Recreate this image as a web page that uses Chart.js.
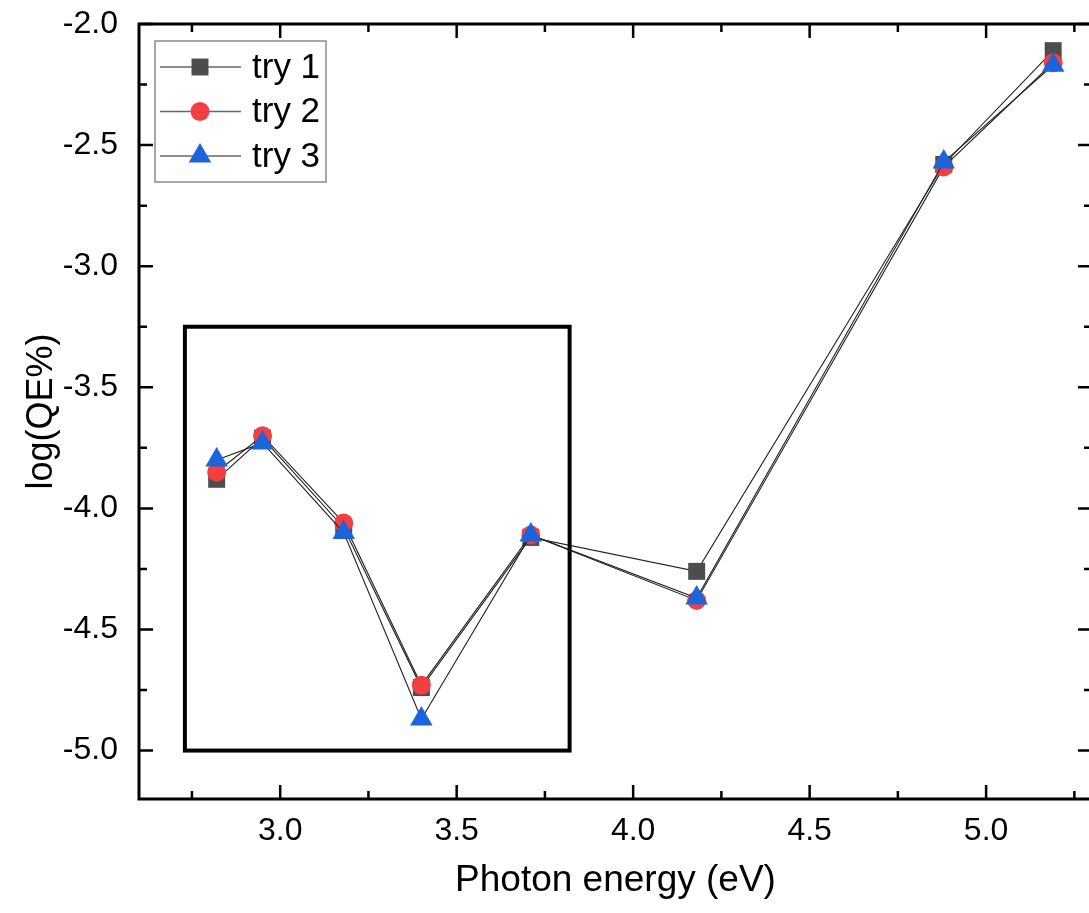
<!DOCTYPE html>
<html><head><meta charset="utf-8">
<script src="https://cdn.jsdelivr.net/npm/chart.js@4.4.1/dist/chart.umd.min.js"></script>
<style>
html,body{margin:0;padding:0;background:#fff;overflow:hidden;}
#wrap{position:relative;width:1105px;height:913px;}
</style></head><body>
<div id="wrap"><canvas id="c" width="1105" height="913"></canvas></div>
<script>
// ---- data ----
const energies = [2.82, 2.95, 3.18, 3.40, 3.71, 4.18, 4.88, 5.19];
const try1 = [-3.88, -3.71, -4.08, -4.74, -4.12, -4.26, -2.58, -2.11];
const try2 = [-3.85, -3.70, -4.06, -4.73, -4.11, -4.38, -2.59, -2.16];
const try3 = [-3.80, -3.73, -4.10, -4.87, -4.11, -4.37, -2.57, -2.17];
const seriesLabels = ['try 1', 'try 2', 'try 3'];
const xTitle = 'Photon energy (eV)';
const yTitle = 'log(QE%)';
const xRange = [2.6, 5.3];
const yRange = [-5.2, -2.0];
const tickStep = 0.25;
const labelStep = 0.5;
const boxRegion = {xMin: 2.73, xMax: 3.82, yMin: -5.0, yMax: -3.25};

// ---- styles ----
const FONT = "'Liberation Sans', Arial, sans-serif";
const styles = [
  {color: '#4d4d4d', pointStyle: 'rect', radius: 12},
  {color: '#f33f3f', pointStyle: 'circle', radius: 9.5},
  {color: '#1a64dc', pointStyle: 'triangle', radius: 13}
];
const seriesValues = [try1, try2, try3];

const datasets = seriesValues.map((vals, i) => ({
  label: seriesLabels[i],
  data: energies.map((e, j) => ({x: e, y: vals[j]})),
  borderColor: '#222',
  borderWidth: 1.1,
  pointStyle: styles[i].pointStyle,
  pointRadius: styles[i].radius,
  pointHoverRadius: styles[i].radius,
  pointBackgroundColor: styles[i].color,
  pointBorderColor: styles[i].color,
  pointBorderWidth: 0,
  fill: false,
  tension: 0,
  order: 3 - i
}));

function isMajor(v) {
  const r = v / labelStep;
  return Math.abs(r - Math.round(r)) < 1e-6;
}

const framePlugin = {
  id: 'framePlugin',
  afterDatasetsDraw(chart) {
    const ctx = chart.ctx, ca = chart.chartArea;
    const xs = chart.scales.x, ys = chart.scales.y;
    ctx.save();
    // annotation box
    const bx1 = xs.getPixelForValue(boxRegion.xMin), bx2 = xs.getPixelForValue(boxRegion.xMax);
    const by1 = ys.getPixelForValue(boxRegion.yMax), by2 = ys.getPixelForValue(boxRegion.yMin);
    ctx.strokeStyle = '#000';
    ctx.lineWidth = 4;
    ctx.strokeRect(bx1, by1, bx2 - bx1, by2 - by1);
    // frame
    ctx.lineWidth = 3;
    ctx.strokeStyle = '#000';
    ctx.strokeRect(ca.left, ca.top, ca.right - ca.left, ca.bottom - ca.top);
    // inward ticks on four sides
    ctx.lineWidth = 2.5;
    xs.ticks.forEach(t => {
      const px = xs.getPixelForValue(t.value);
      const len = isMajor(t.value) ? 14 : 8;
      ctx.beginPath();
      ctx.moveTo(px, ca.bottom); ctx.lineTo(px, ca.bottom - len);
      ctx.moveTo(px, ca.top); ctx.lineTo(px, ca.top + len);
      ctx.stroke();
    });
    ys.ticks.forEach(t => {
      const py = ys.getPixelForValue(t.value);
      const len = isMajor(t.value) ? 14 : 8;
      ctx.beginPath();
      ctx.moveTo(ca.left, py); ctx.lineTo(ca.left + len, py);
      ctx.moveTo(ca.right, py); ctx.lineTo(ca.right - len, py);
      ctx.stroke();
    });
    ctx.restore();
  },
  afterDraw(chart) {
    const ctx = chart.ctx, ca = chart.chartArea;
    ctx.save();
    const lx = ca.left + 16, ly = ca.top + 17, lw = 171, lh = 141;
    ctx.fillStyle = '#fff';
    ctx.fillRect(lx, ly, lw, lh);
    ctx.strokeStyle = '#8a8a8a';
    ctx.lineWidth = 1.5;
    ctx.strokeRect(lx, ly, lw, lh);
    chart.data.datasets.forEach((ds, i) => {
      const cy = ly + 26 + i * 44.5;
      ctx.strokeStyle = '#666';
      ctx.lineWidth = 1.5;
      ctx.beginPath();
      ctx.moveTo(lx + 5, cy); ctx.lineTo(lx + 86, cy);
      ctx.stroke();
      ctx.fillStyle = ds.pointBackgroundColor;
      ctx.strokeStyle = ds.pointBackgroundColor;
      Chart.helpers.drawPoint(ctx, {pointStyle: ds.pointStyle, radius: ds.pointRadius, rotation: 0, borderWidth: 0}, lx + 45, cy);
      ctx.fillStyle = '#000';
      ctx.font = '35px ' + FONT;
      ctx.textBaseline = 'middle';
      ctx.textAlign = 'left';
      ctx.fillText(ds.label, lx + 97, cy + 1);
    });
    ctx.restore();
  }
};

function zeroPad(s) {
  s.paddingTop = 0; s.paddingBottom = 0; s.paddingLeft = 0; s.paddingRight = 0;
}

new Chart(document.getElementById('c'), {
  type: 'line',
  data: {datasets},
  options: {
    responsive: false,
    devicePixelRatio: 1,
    animation: false,
    layout: {padding: {left: 0, top: 24, right: 4, bottom: 0}},
    plugins: {legend: {display: false}, tooltip: {enabled: false}},
    scales: {
      x: {
        type: 'linear',
        min: xRange[0], max: xRange[1],
        afterFit(s) { s.height = 114; zeroPad(s); },
        grid: {display: false, drawTicks: false},
        border: {display: false},
        ticks: {
          stepSize: tickStep, includeBounds: false, autoSkip: false, maxRotation: 0,
          padding: 13, color: '#000',
          font: {family: FONT, size: 32},
          callback: v => isMajor(v) ? v.toFixed(1) : ''
        },
        title: {display: true, text: xTitle, color: '#000',
          font: {family: FONT, size: 37, lineHeight: 1}, padding: {top: 14, bottom: 14}}
      },
      y: {
        type: 'linear',
        min: yRange[0], max: yRange[1],
        afterFit(s) { s.width = 139; zeroPad(s); },
        grid: {display: false, drawTicks: false},
        border: {display: false},
        ticks: {
          stepSize: tickStep, includeBounds: false, autoSkip: false,
          padding: 21, color: '#000',
          font: {family: FONT, size: 32},
          callback: v => isMajor(v) ? v.toFixed(1) : ''
        },
        title: {display: true, text: yTitle, color: '#000',
          font: {family: FONT, size: 36, lineHeight: 1}, padding: {top: 24, bottom: 24}}
      }
    }
  },
  plugins: [framePlugin]
});
</script>
</body></html>
